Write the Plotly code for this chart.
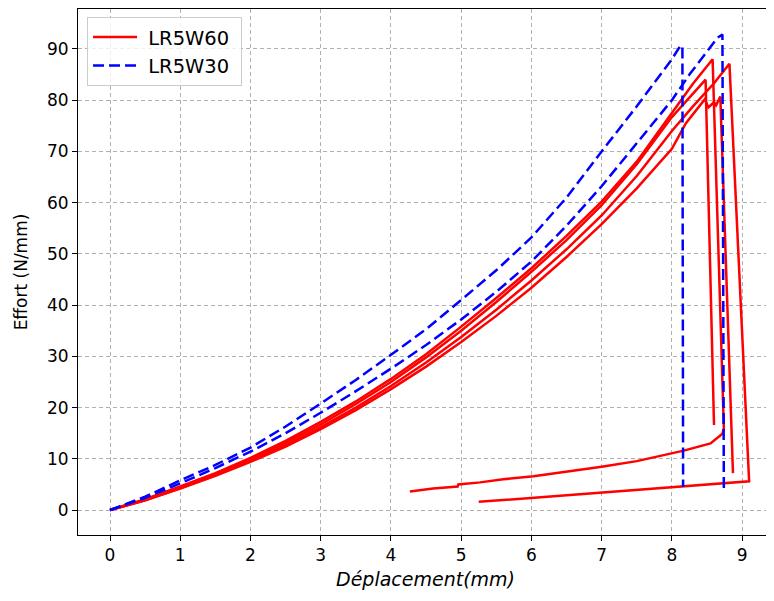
import plotly.graph_objects as go

# LR5W60 specimens (red, solid)
r1_x = [0, 0.5, 1, 1.5, 2, 2.5, 3, 3.5, 4, 4.5, 5, 5.5, 6, 6.5, 7, 7.5, 8, 8.3, 8.48, 8.60]
r1_y = [0, 2.0, 4.4, 7.0, 9.9, 13.1, 16.7, 20.7, 25.0, 29.8, 35.0, 40.6, 46.5, 52.7, 59.5, 67.5, 76.7, 81.4, 84.0, 16.6]

r2_x = [0, 0.5, 1, 1.5, 2, 2.5, 3, 3.5, 4, 4.5, 5, 5.5, 6, 6.5, 7, 7.5, 8, 8.3, 8.58, 8.74,
        8.72, 8.55, 8.17, 7.5, 7.0, 6.5, 6.03, 5.6, 5.27, 4.96, 4.95, 4.6, 4.27]
r2_y = [0, 2.1, 4.6, 7.2, 10.2, 13.5, 17.2, 21.2, 25.6, 30.4, 35.8, 41.4, 47.2, 53.5, 60.2, 68.0, 77.5, 83.2, 88.0, 16.0,
        14.9, 13.0, 11.6, 9.55, 8.45, 7.5, 6.6, 6.0, 5.4, 5.0, 4.6, 4.2, 3.6]

r3_x = [0, 0.5, 1, 1.5, 2, 2.5, 3, 3.5, 4, 4.5, 5, 5.5, 6, 6.5, 7, 7.5, 8, 8.3, 8.6, 8.82, 9.1,
        7.0, 5.25]
r3_y = [0, 1.9, 4.3, 6.8, 9.6, 12.7, 16.2, 20.0, 24.2, 28.8, 33.8, 39.1, 44.8, 50.9, 57.5, 65.2, 74.0, 78.8, 83.3, 87.1, 5.6,
        3.45, 1.6]

r4_x = [0, 0.5, 1, 1.5, 2, 2.5, 3, 3.5, 4, 4.5, 5, 5.5, 6, 6.5, 7, 7.5, 8, 8.2, 8.47, 8.52, 8.6, 8.63, 8.69, 8.87]
r4_y = [0, 1.9, 4.2, 6.7, 9.4, 12.4, 15.8, 19.5, 23.6, 28.0, 32.8, 37.9, 43.4, 49.4, 55.8, 62.8, 70.5, 75.5, 80.2, 78.6, 79.6, 79.0, 80.7, 7.2]

# LR5W30 specimens (blue, dashed)
b1_x = [0, 0.5, 1, 1.5, 2, 2.5, 3, 3.5, 4, 4.5, 5, 5.5, 6, 6.5, 7, 7.5, 8, 8.12, 8.15, 8.16]
b1_y = [0, 2.6, 5.8, 8.8, 12.2, 16.3, 20.8, 25.4, 30.3, 35.3, 41.0, 46.8, 53.2, 61.0, 70.0, 78.8, 88.0, 90.6, 90.6, 4.5]

b2_x = [0, 0.5, 1, 1.5, 2, 2.5, 3, 3.5, 4, 4.5, 5, 5.5, 6, 6.5, 7, 7.5, 8, 8.25, 8.5, 8.65, 8.72, 8.74]
b2_y = [0, 2.4, 5.2, 8.2, 11.4, 15.0, 19.0, 23.2, 27.6, 32.2, 37.2, 42.6, 48.5, 55.5, 63.2, 71.5, 80.0, 85.0, 89.5, 92.2, 92.8, 3.9]

red_curves = [(r1_x, r1_y), (r2_x, r2_y), (r3_x, r3_y), (r4_x, r4_y)]
blue_curves = [(b1_x, b1_y), (b2_x, b2_y)]

font = 'DejaVu Sans'
nb = '\u00a0'  # pads the legend labels like matplotlib's handle/text gap

traces = []
for i, (x, y) in enumerate(red_curves):
    traces.append(go.Scatter(
        x=x, y=y, mode='lines',
        line=dict(color='#ff0000', width=2.5),
        name=nb + 'LR5W60' + nb, legendgroup='w60', showlegend=(i == 0),
    ))
for i, (x, y) in enumerate(blue_curves):
    traces.append(go.Scatter(
        x=x, y=y, mode='lines',
        line=dict(color='#0000ff', width=2.5, dash='11px,5px'),
        name=nb + 'LR5W30' + nb, legendgroup='w30', showlegend=(i == 0),
    ))

axis_common = dict(
    showgrid=True,
    gridcolor='#b0b0b0',
    griddash='4px,3px',
    gridwidth=1,
    zeroline=False,
    showline=True,
    linecolor='black',
    linewidth=1,
    mirror=True,
    ticks='outside',
    ticklen=5,
    tickcolor='black',
    automargin=False,
    tickfont=dict(family=font, size=17, color='black'),
)

# the page body has an 8px margin, so the figure is drawn 8px smaller
layout = go.Layout(
    width=766,
    height=593,
    paper_bgcolor='white',
    plot_bgcolor='white',
    font=dict(family=font, size=17, color='black'),
    margin=dict(l=70, r=1, t=1, b=66),
    showlegend=True,
    legend=dict(
        x=0.013, y=0.985, xanchor='left', yanchor='top',
        bgcolor='rgba(255,255,255,0.8)',
        bordercolor='#cccccc', borderwidth=1,
        font=dict(family=font, size=19.5),
        itemwidth=44,
        tracegroupgap=0,
    ),
    xaxis=dict(
        title=dict(text='<i>Déplacement(mm)</i>', font=dict(family=font, size=19), standoff=8),
        range=[-0.456, 9.44],
        tickmode='linear', tick0=0, dtick=1,
        **axis_common,
    ),
    yaxis=dict(
        title=dict(text='Effort (N/mm)', font=dict(family=font, size=17)),
        range=[-4.87, 97.8],
        tickmode='linear', tick0=0, dtick=10,
        **axis_common,
    ),
)

fig = go.Figure(data=traces, layout=layout)
fig.write_html('out.html')
